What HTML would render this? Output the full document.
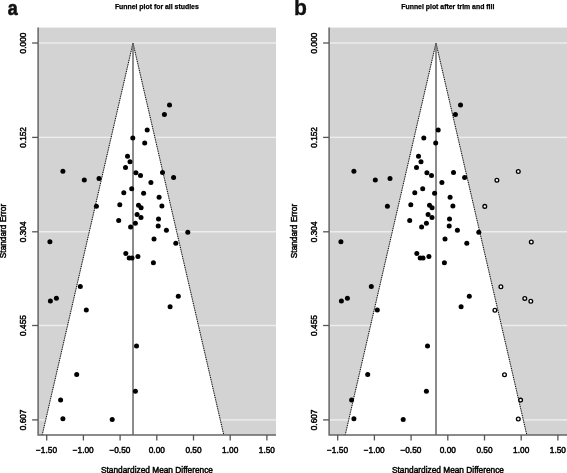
<!DOCTYPE html>
<html><head><meta charset="utf-8"><title>Funnel plots</title>
<style>
html,body{margin:0;padding:0;background:#fff;}
svg{display:block}
text{font-family:"Liberation Sans",sans-serif;fill:#000}
.t{font-size:8.3px;stroke:#000;stroke-width:0.45px}
.ti{font-size:6.9px;font-weight:bold;fill:#000;stroke:#000;stroke-width:0.25px}
.lt{font-size:22px;font-weight:bold;fill:#111}
</style></head><body>
<svg width="567" height="473" viewBox="0 0 567 473">
<rect width="567" height="473" fill="#fff"/>
<rect x="38.1" y="27.6" width="237.9" height="407.4" fill="#d3d3d3"/>
<rect x="38.1" y="42.25" width="237.9" height="1.5" fill="#ededed"/>
<rect x="38.1" y="136.63" width="237.9" height="1.5" fill="#ededed"/>
<rect x="38.1" y="231.00" width="237.9" height="1.5" fill="#ededed"/>
<rect x="38.1" y="324.76" width="237.9" height="1.5" fill="#ededed"/>
<rect x="38.1" y="419.14" width="237.9" height="1.5" fill="#ededed"/>
<polygon points="133.0,43.0 223.8,435.0 42.2,435.0" fill="#fff"/>
<path d="M42.2,435.0 L133.0,43.0 L223.8,435.0" fill="none" stroke="#666" stroke-width="0.5"/>
<path d="M42.2,435.0 L133.0,43.0 L223.8,435.0" fill="none" stroke="#000" stroke-width="1" stroke-dasharray="1 1.3"/>
<line x1="133.0" y1="43.0" x2="133.0" y2="435.0" stroke="#666" stroke-width="1.5"/>
<path d="M38.1,27.6 V435.0 H276.0" fill="none" stroke="#666" stroke-width="1.5"/>
<line x1="32.1" y1="43.0" x2="38.1" y2="43.0" stroke="#555" stroke-width="1.3"/>
<line x1="32.1" y1="137.4" x2="38.1" y2="137.4" stroke="#555" stroke-width="1.3"/>
<line x1="32.1" y1="231.8" x2="38.1" y2="231.8" stroke="#555" stroke-width="1.3"/>
<line x1="32.1" y1="325.5" x2="38.1" y2="325.5" stroke="#555" stroke-width="1.3"/>
<line x1="32.1" y1="419.9" x2="38.1" y2="419.9" stroke="#555" stroke-width="1.3"/>
<line x1="46.7" y1="435.0" x2="46.7" y2="440.5" stroke="#555" stroke-width="1.3"/>
<line x1="83.4" y1="435.0" x2="83.4" y2="440.5" stroke="#555" stroke-width="1.3"/>
<line x1="120.1" y1="435.0" x2="120.1" y2="440.5" stroke="#555" stroke-width="1.3"/>
<line x1="156.8" y1="435.0" x2="156.8" y2="440.5" stroke="#555" stroke-width="1.3"/>
<line x1="193.5" y1="435.0" x2="193.5" y2="440.5" stroke="#555" stroke-width="1.3"/>
<line x1="230.2" y1="435.0" x2="230.2" y2="440.5" stroke="#555" stroke-width="1.3"/>
<line x1="266.9" y1="435.0" x2="266.9" y2="440.5" stroke="#555" stroke-width="1.3"/>
<circle cx="169.5" cy="105.0" r="2.5" fill="#000"/>
<circle cx="164.4" cy="114.5" r="2.5" fill="#000"/>
<circle cx="147.2" cy="130.1" r="2.5" fill="#000"/>
<circle cx="132.8" cy="138.0" r="2.5" fill="#000"/>
<circle cx="144.7" cy="143.0" r="2.5" fill="#000"/>
<circle cx="127.5" cy="156.3" r="2.5" fill="#000"/>
<circle cx="130.0" cy="161.7" r="2.5" fill="#000"/>
<circle cx="125.5" cy="167.4" r="2.5" fill="#000"/>
<circle cx="62.9" cy="171.3" r="2.5" fill="#000"/>
<circle cx="135.9" cy="172.7" r="2.5" fill="#000"/>
<circle cx="140.5" cy="175.6" r="2.5" fill="#000"/>
<circle cx="162.5" cy="172.5" r="2.5" fill="#000"/>
<circle cx="173.6" cy="177.5" r="2.5" fill="#000"/>
<circle cx="84.3" cy="180.0" r="2.5" fill="#000"/>
<circle cx="99.0" cy="178.6" r="2.5" fill="#000"/>
<circle cx="150.9" cy="182.5" r="2.5" fill="#000"/>
<circle cx="131.7" cy="188.7" r="2.5" fill="#000"/>
<circle cx="123.8" cy="192.7" r="2.5" fill="#000"/>
<circle cx="143.6" cy="193.2" r="2.5" fill="#000"/>
<circle cx="159.1" cy="197.2" r="2.5" fill="#000"/>
<circle cx="119.8" cy="204.7" r="2.5" fill="#000"/>
<circle cx="96.4" cy="206.2" r="2.5" fill="#000"/>
<circle cx="138.5" cy="205.2" r="2.5" fill="#000"/>
<circle cx="141.1" cy="207.7" r="2.5" fill="#000"/>
<circle cx="161.9" cy="206.1" r="2.5" fill="#000"/>
<circle cx="137.1" cy="214.6" r="2.5" fill="#000"/>
<circle cx="141.0" cy="217.5" r="2.5" fill="#000"/>
<circle cx="158.5" cy="218.9" r="2.5" fill="#000"/>
<circle cx="118.7" cy="220.6" r="2.5" fill="#000"/>
<circle cx="135.4" cy="223.2" r="2.5" fill="#000"/>
<circle cx="130.6" cy="226.9" r="2.5" fill="#000"/>
<circle cx="158.2" cy="225.9" r="2.5" fill="#000"/>
<circle cx="166.4" cy="230.2" r="2.5" fill="#000"/>
<circle cx="187.8" cy="232.2" r="2.5" fill="#000"/>
<circle cx="154.0" cy="239.0" r="2.5" fill="#000"/>
<circle cx="49.9" cy="241.8" r="2.5" fill="#000"/>
<circle cx="175.8" cy="243.3" r="2.5" fill="#000"/>
<circle cx="125.8" cy="253.6" r="2.5" fill="#000"/>
<circle cx="129.2" cy="257.9" r="2.5" fill="#000"/>
<circle cx="132.0" cy="257.9" r="2.5" fill="#000"/>
<circle cx="137.9" cy="256.5" r="2.5" fill="#000"/>
<circle cx="153.4" cy="262.7" r="2.5" fill="#000"/>
<circle cx="80.3" cy="286.6" r="2.5" fill="#000"/>
<circle cx="56.4" cy="298.2" r="2.5" fill="#000"/>
<circle cx="50.4" cy="301.0" r="2.5" fill="#000"/>
<circle cx="86.3" cy="310.1" r="2.5" fill="#000"/>
<circle cx="178.3" cy="296.2" r="2.5" fill="#000"/>
<circle cx="170.1" cy="306.7" r="2.5" fill="#000"/>
<circle cx="136.5" cy="345.9" r="2.5" fill="#000"/>
<circle cx="76.7" cy="374.5" r="2.5" fill="#000"/>
<circle cx="135.4" cy="391.2" r="2.5" fill="#000"/>
<circle cx="60.6" cy="399.9" r="2.5" fill="#000"/>
<circle cx="62.9" cy="418.8" r="2.5" fill="#000"/>
<circle cx="112.2" cy="419.4" r="2.5" fill="#000"/>
<text class="t" text-anchor="middle" transform="translate(26.1,43.0) rotate(-90)">0.000</text>
<text class="t" text-anchor="middle" transform="translate(26.1,137.4) rotate(-90)">0.152</text>
<text class="t" text-anchor="middle" transform="translate(26.1,231.8) rotate(-90)">0.304</text>
<text class="t" text-anchor="middle" transform="translate(26.1,325.5) rotate(-90)">0.455</text>
<text class="t" text-anchor="middle" transform="translate(26.1,419.9) rotate(-90)">0.607</text>
<text class="t" text-anchor="middle" x="46.5" y="453.2">−1.50</text>
<text class="t" text-anchor="middle" x="83.2" y="453.2">−1.00</text>
<text class="t" text-anchor="middle" x="119.9" y="453.2">−0.50</text>
<text class="t" text-anchor="middle" x="156.8" y="453.2">0.00</text>
<text class="t" text-anchor="middle" x="193.5" y="453.2">0.50</text>
<text class="t" text-anchor="middle" x="230.2" y="453.2">1.00</text>
<text class="t" text-anchor="middle" x="266.9" y="453.2">1.50</text>
<text class="t" text-anchor="middle" transform="translate(6.3,231) rotate(-90)">Standard Error</text>
<text class="t" text-anchor="middle" x="157.0" y="473.0">Standardized Mean Difference</text>
<text class="ti" text-anchor="middle" x="156.8" y="9.4">Funnel plot for all studies</text>
<text class="lt" stroke="#111" stroke-width="0.7" transform="translate(7.7,14.6) scale(0.81,0.955)">a</text>
<rect x="329.1" y="27.6" width="237.9" height="407.4" fill="#d3d3d3"/>
<rect x="329.1" y="42.25" width="237.9" height="1.5" fill="#ededed"/>
<rect x="329.1" y="136.63" width="237.9" height="1.5" fill="#ededed"/>
<rect x="329.1" y="231.00" width="237.9" height="1.5" fill="#ededed"/>
<rect x="329.1" y="324.76" width="237.9" height="1.5" fill="#ededed"/>
<rect x="329.1" y="419.14" width="237.9" height="1.5" fill="#ededed"/>
<polygon points="436.0,43.0 526.8,435.0 345.2,435.0" fill="#fff"/>
<path d="M345.2,435.0 L436.0,43.0 L526.8,435.0" fill="none" stroke="#666" stroke-width="0.5"/>
<path d="M345.2,435.0 L436.0,43.0 L526.8,435.0" fill="none" stroke="#000" stroke-width="1" stroke-dasharray="1 1.3"/>
<line x1="436.0" y1="43.0" x2="436.0" y2="435.0" stroke="#666" stroke-width="1.5"/>
<path d="M329.1,27.6 V435.0 H567.0" fill="none" stroke="#666" stroke-width="1.5"/>
<line x1="323.1" y1="43.0" x2="329.1" y2="43.0" stroke="#555" stroke-width="1.3"/>
<line x1="323.1" y1="137.4" x2="329.1" y2="137.4" stroke="#555" stroke-width="1.3"/>
<line x1="323.1" y1="231.8" x2="329.1" y2="231.8" stroke="#555" stroke-width="1.3"/>
<line x1="323.1" y1="325.5" x2="329.1" y2="325.5" stroke="#555" stroke-width="1.3"/>
<line x1="323.1" y1="419.9" x2="329.1" y2="419.9" stroke="#555" stroke-width="1.3"/>
<line x1="337.7" y1="435.0" x2="337.7" y2="440.5" stroke="#555" stroke-width="1.3"/>
<line x1="374.4" y1="435.0" x2="374.4" y2="440.5" stroke="#555" stroke-width="1.3"/>
<line x1="411.1" y1="435.0" x2="411.1" y2="440.5" stroke="#555" stroke-width="1.3"/>
<line x1="447.8" y1="435.0" x2="447.8" y2="440.5" stroke="#555" stroke-width="1.3"/>
<line x1="484.5" y1="435.0" x2="484.5" y2="440.5" stroke="#555" stroke-width="1.3"/>
<line x1="521.2" y1="435.0" x2="521.2" y2="440.5" stroke="#555" stroke-width="1.3"/>
<line x1="557.9" y1="435.0" x2="557.9" y2="440.5" stroke="#555" stroke-width="1.3"/>
<circle cx="460.5" cy="105.0" r="2.5" fill="#000"/>
<circle cx="455.4" cy="114.5" r="2.5" fill="#000"/>
<circle cx="438.2" cy="130.1" r="2.5" fill="#000"/>
<circle cx="423.8" cy="138.0" r="2.5" fill="#000"/>
<circle cx="435.7" cy="143.0" r="2.5" fill="#000"/>
<circle cx="418.5" cy="156.3" r="2.5" fill="#000"/>
<circle cx="421.0" cy="161.7" r="2.5" fill="#000"/>
<circle cx="416.5" cy="167.4" r="2.5" fill="#000"/>
<circle cx="353.9" cy="171.3" r="2.5" fill="#000"/>
<circle cx="426.9" cy="172.7" r="2.5" fill="#000"/>
<circle cx="431.5" cy="175.6" r="2.5" fill="#000"/>
<circle cx="453.5" cy="172.5" r="2.5" fill="#000"/>
<circle cx="464.6" cy="177.5" r="2.5" fill="#000"/>
<circle cx="375.3" cy="180.0" r="2.5" fill="#000"/>
<circle cx="390.0" cy="178.6" r="2.5" fill="#000"/>
<circle cx="441.9" cy="182.5" r="2.5" fill="#000"/>
<circle cx="422.7" cy="188.7" r="2.5" fill="#000"/>
<circle cx="414.8" cy="192.7" r="2.5" fill="#000"/>
<circle cx="434.6" cy="193.2" r="2.5" fill="#000"/>
<circle cx="450.1" cy="197.2" r="2.5" fill="#000"/>
<circle cx="410.8" cy="204.7" r="2.5" fill="#000"/>
<circle cx="387.4" cy="206.2" r="2.5" fill="#000"/>
<circle cx="429.5" cy="205.2" r="2.5" fill="#000"/>
<circle cx="432.1" cy="207.7" r="2.5" fill="#000"/>
<circle cx="452.9" cy="206.1" r="2.5" fill="#000"/>
<circle cx="428.1" cy="214.6" r="2.5" fill="#000"/>
<circle cx="432.0" cy="217.5" r="2.5" fill="#000"/>
<circle cx="449.5" cy="218.9" r="2.5" fill="#000"/>
<circle cx="409.7" cy="220.6" r="2.5" fill="#000"/>
<circle cx="426.4" cy="223.2" r="2.5" fill="#000"/>
<circle cx="421.6" cy="226.9" r="2.5" fill="#000"/>
<circle cx="449.2" cy="225.9" r="2.5" fill="#000"/>
<circle cx="457.4" cy="230.2" r="2.5" fill="#000"/>
<circle cx="478.8" cy="232.2" r="2.5" fill="#000"/>
<circle cx="445.0" cy="239.0" r="2.5" fill="#000"/>
<circle cx="340.9" cy="241.8" r="2.5" fill="#000"/>
<circle cx="466.8" cy="243.3" r="2.5" fill="#000"/>
<circle cx="416.8" cy="253.6" r="2.5" fill="#000"/>
<circle cx="420.2" cy="257.9" r="2.5" fill="#000"/>
<circle cx="423.0" cy="257.9" r="2.5" fill="#000"/>
<circle cx="428.9" cy="256.5" r="2.5" fill="#000"/>
<circle cx="444.4" cy="262.7" r="2.5" fill="#000"/>
<circle cx="371.3" cy="286.6" r="2.5" fill="#000"/>
<circle cx="347.4" cy="298.2" r="2.5" fill="#000"/>
<circle cx="341.4" cy="301.0" r="2.5" fill="#000"/>
<circle cx="377.3" cy="310.1" r="2.5" fill="#000"/>
<circle cx="469.3" cy="296.2" r="2.5" fill="#000"/>
<circle cx="461.1" cy="306.7" r="2.5" fill="#000"/>
<circle cx="427.5" cy="345.9" r="2.5" fill="#000"/>
<circle cx="367.7" cy="374.5" r="2.5" fill="#000"/>
<circle cx="426.4" cy="391.2" r="2.5" fill="#000"/>
<circle cx="351.6" cy="399.9" r="2.5" fill="#000"/>
<circle cx="353.9" cy="418.8" r="2.5" fill="#000"/>
<circle cx="403.2" cy="419.4" r="2.5" fill="#000"/>
<circle cx="518.3" cy="171.5" r="1.85" fill="#fff" stroke="#000" stroke-width="1.35"/>
<circle cx="496.9" cy="180.2" r="1.85" fill="#fff" stroke="#000" stroke-width="1.35"/>
<circle cx="484.8" cy="206.4" r="1.85" fill="#fff" stroke="#000" stroke-width="1.35"/>
<circle cx="531.3" cy="242.0" r="1.85" fill="#fff" stroke="#000" stroke-width="1.35"/>
<circle cx="500.9" cy="286.8" r="1.85" fill="#fff" stroke="#000" stroke-width="1.35"/>
<circle cx="524.8" cy="298.4" r="1.85" fill="#fff" stroke="#000" stroke-width="1.35"/>
<circle cx="530.8" cy="301.2" r="1.85" fill="#fff" stroke="#000" stroke-width="1.35"/>
<circle cx="494.9" cy="310.3" r="1.85" fill="#fff" stroke="#000" stroke-width="1.35"/>
<circle cx="504.5" cy="374.7" r="1.85" fill="#fff" stroke="#000" stroke-width="1.35"/>
<circle cx="520.6" cy="400.1" r="1.85" fill="#fff" stroke="#000" stroke-width="1.35"/>
<circle cx="518.3" cy="419.0" r="1.85" fill="#fff" stroke="#000" stroke-width="1.35"/>
<text class="t" text-anchor="middle" transform="translate(317.1,43.0) rotate(-90)">0.000</text>
<text class="t" text-anchor="middle" transform="translate(317.1,137.4) rotate(-90)">0.152</text>
<text class="t" text-anchor="middle" transform="translate(317.1,231.8) rotate(-90)">0.304</text>
<text class="t" text-anchor="middle" transform="translate(317.1,325.5) rotate(-90)">0.455</text>
<text class="t" text-anchor="middle" transform="translate(317.1,419.9) rotate(-90)">0.607</text>
<text class="t" text-anchor="middle" x="337.5" y="453.2">−1.50</text>
<text class="t" text-anchor="middle" x="374.2" y="453.2">−1.00</text>
<text class="t" text-anchor="middle" x="410.9" y="453.2">−0.50</text>
<text class="t" text-anchor="middle" x="447.8" y="453.2">0.00</text>
<text class="t" text-anchor="middle" x="484.5" y="453.2">0.50</text>
<text class="t" text-anchor="middle" x="521.2" y="453.2">1.00</text>
<text class="t" text-anchor="middle" x="557.9" y="453.2">1.50</text>
<text class="t" text-anchor="middle" transform="translate(297.3,231) rotate(-90)">Standard Error</text>
<text class="t" text-anchor="middle" x="448.0" y="473.0">Standardized Mean Difference</text>
<text class="ti" text-anchor="middle" x="447.8" y="9.4">Funnel plot after trim and fill</text>
<text class="lt" stroke="#111" stroke-width="0.3" transform="translate(294.0,14.5) scale(0.96,0.99)">b</text>
</svg>
</body></html>
